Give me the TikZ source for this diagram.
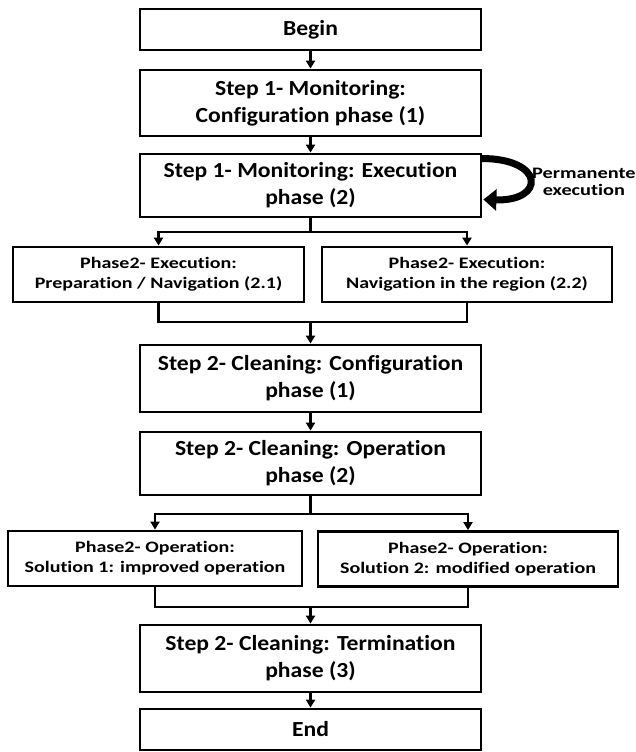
\documentclass[tikz,border=0pt]{standalone}
\usepackage{fontspec}
\setmainfont{Carlito}[Ligatures=NoCommon]
\newfontfamily\stepfont{Carlito}[Ligatures=NoCommon, FakeStretch=1.1]
\newfontfamily\phasefont{Carlito}[Ligatures=NoCommon, FakeStretch=1.25]
\newfontfamily\notefont{Carlito}[Ligatures=NoCommon, FakeStretch=1.27]
\usetikzlibrary{arrows.meta}
\begin{document}
\begin{tikzpicture}[x=1pt,y=-1pt,
  box/.style={draw, line width=2.8pt, rectangle, inner sep=2pt, align=center,
    font=\stepfont\bfseries\fontsize{21.5}{27}\selectfont},
  smallbox/.style={box, font=\phasefont\bfseries\fontsize{16}{20}\selectfont},
  link/.style={line width=2.3pt, -{Triangle[length=8pt,width=9pt]}},
  plain/.style={line width=2.3pt}]
\useasboundingbox (0,0) rectangle (636,752);

% main column
\node[box, minimum width=341pt, minimum height=41pt] (begin) at (310.5,29.5) {Begin};
\node[box, minimum width=341pt, minimum height=66pt] (cfg1) at (310.5,103) {Step 1- Monitoring:\\Configuration phase (1)};
\node[box, minimum width=341pt, minimum height=63pt] (exec) at (310.5,185.5) {Step 1- Monitoring: Execution\\phase (2)};

% execution sub-phases
\node[smallbox, minimum width=291pt, minimum height=55pt] (p21) at (158.5,274.5) {Phase2- Execution:\\Preparation / Navigation (2.1)};
\node[smallbox, minimum width=290pt, minimum height=55pt] (p22) at (467,274.5) {Phase2- Execution:\\Navigation in the region (2.2)};

\node[box, minimum width=341pt, minimum height=67pt] (cfg2) at (310.5,378.5) {Step 2- Cleaning: Configuration\\phase (1)};
\node[box, minimum width=341pt, minimum height=63pt] (op2) at (310.5,463.5) {Step 2- Cleaning: Operation\\phase (2)};

% operation solutions
\node[smallbox, minimum width=294pt, minimum height=55pt] (s1) at (155,558.5) {Phase2- Operation:\\Solution 1: improved operation};
\node[smallbox, minimum width=300pt, minimum height=55pt] (s2) at (468,559) {Phase2- Operation:\\Solution 2: modified operation};

\node[box, minimum width=341pt, minimum height=67pt] (term) at (310.5,658.5) {Step 2- Cleaning: Termination\\phase (3)};
\node[box, minimum width=341pt, minimum height=41pt] (end) at (310.5,729.5) {End};

% junction points
\coordinate (fork1) at (310.5,232);
\coordinate (join1) at (310.5,322);
\coordinate (fork2) at (310.5,514);
\coordinate (join2) at (310.5,607);

% connectors
\draw[link] (begin) -- (cfg1);
\draw[link] (cfg1) -- (exec);
\draw[plain] (exec.south) -- (fork1);
\draw[link] (fork1) -| (p21.north);
\draw[link] (fork1) -| (p22.north);
\draw[plain] (p21.south) |- (join1) -| (p22.south);
\draw[link] (join1) -- (cfg2.north);
\draw[link] (cfg2) -- (op2);
\draw[plain] (op2.south) -- (fork2);
\draw[link] (fork2) -| (s1.north);
\draw[link] (fork2) -| (s2.north);
\draw[plain] (s1.south) |- (join2) -| (s2.south);
\draw[link] (join2) -- (term.north);
\draw[link] (term) -- (end);

% permanent execution loop
\coordinate (loopout) at ([xshift=-1pt, yshift=27pt]exec.east);
\coordinate (loopin) at ([xshift=1pt, yshift=-14pt]exec.east);
\draw[line width=7pt, -{Triangle[length=13pt,width=21pt]}]
  (loopout) .. controls +(64,0) and +(62,2) .. (loopin);
\node[font=\notefont\bfseries\fontsize{16}{17}\selectfont, align=center, anchor=west, inner sep=0pt] (perm) at (532,182) {Permanente\\execution};
\end{tikzpicture}
\end{document}
